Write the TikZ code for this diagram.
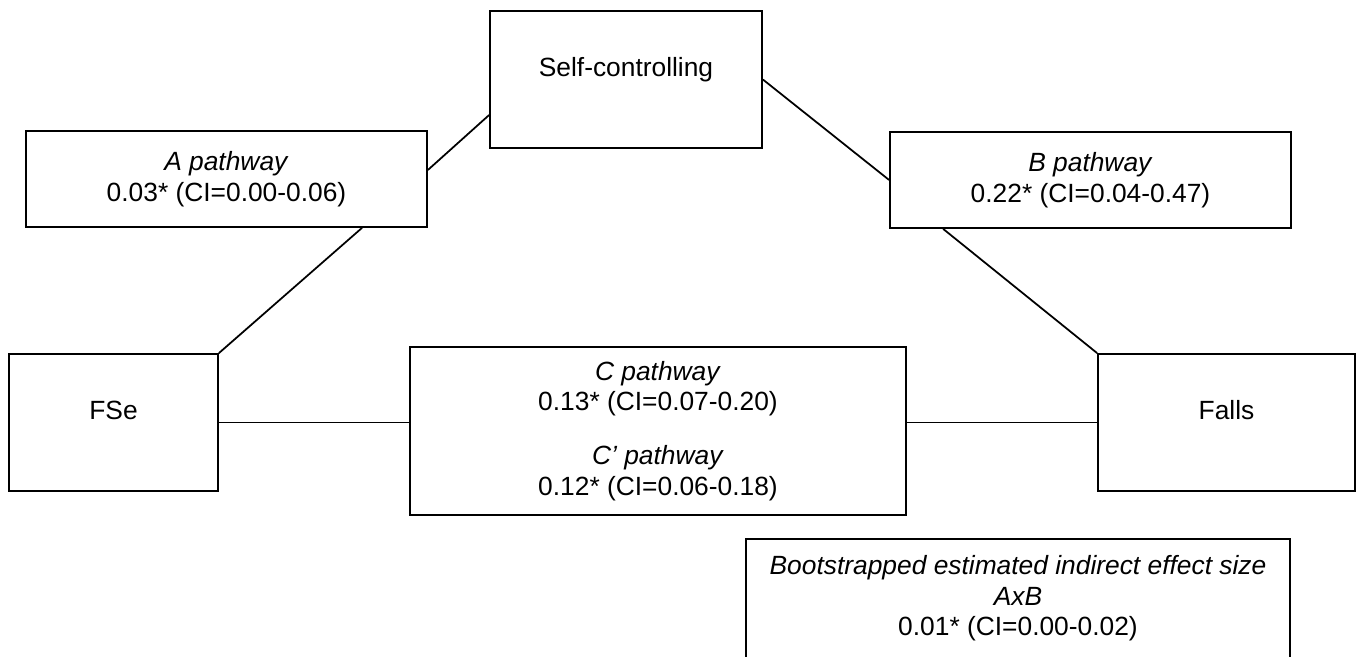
\documentclass[tikz,border=0pt]{standalone}
\usepackage{fontspec}
\setmainfont{Liberation Sans}
\usetikzlibrary{calc}

\tikzset{
  box/.style={draw, inner sep=0pt, align=center, font=\fontsize{15}{17.5}\selectfont},
  varbox/.style={box, text height=1.31cm, text depth=1.43cm}
}

\begin{document}
\begin{tikzpicture}[line width=1pt]
  \useasboundingbox (0,0) rectangle (27.14,13.12);

  % Define points
  \coordinate (S) at (12.52,11.53); % Self-controlling
  \coordinate (X) at (2.27,4.67);   % FSe
  \coordinate (Y) at (24.53,4.67);  % Falls
  \coordinate (A) at (4.53,9.54);
  \coordinate (B) at (21.81,9.52);
  \coordinate (C) at (13.16,4.50);
  \coordinate (E) at (20.36,1.155); % indirect effect

  % Draw variable boxes
  \node[varbox, minimum width=5.44cm] (self) at (S) {Self-controlling};
  \node[varbox, minimum width=4.18cm] (fse) at (X) {FSe};
  \node[varbox, minimum width=5.14cm] (falls) at (Y) {Falls};

  % Draw pathway boxes
  \node[box, minimum width=8.02cm, minimum height=1.92cm] (apath) at (A)
    {\textit{A pathway}\\0.03* (CI=0.00-0.06)};
  \node[box, minimum width=8.02cm, minimum height=1.92cm] (bpath) at (B)
    {\textit{B pathway}\\0.22* (CI=0.04-0.47)};
  \node[box, minimum width=9.92cm, minimum height=3.36cm] (cpath) at (C)
    {\textit{C pathway}\\0.13* (CI=0.07-0.20)\\[0.46cm]\textit{C’ pathway}\\0.12* (CI=0.06-0.18)};
  \node[box, minimum width=10.88cm, minimum height=2.37cm] (boot) at (E)
    {\textit{Bootstrapped estimated indirect effect size}\\\textit{AxB}\\0.01* (CI=0.00-0.02)};

  % Draw the links
  \draw ([yshift=0.18cm]apath.east) -- ([yshift=-0.71cm]self.west);
  \draw ([xshift=2.71cm]apath.south) -- (fse.north east);
  \draw (self.east) -- (bpath.west);
  \draw ([xshift=1.08cm]bpath.south west) -- (falls.north west);
  \draw (fse.east) -- (fse.east -| cpath.west);
  \draw (cpath.east |- falls.west) -- (falls.west);

\end{tikzpicture}
\end{document}
